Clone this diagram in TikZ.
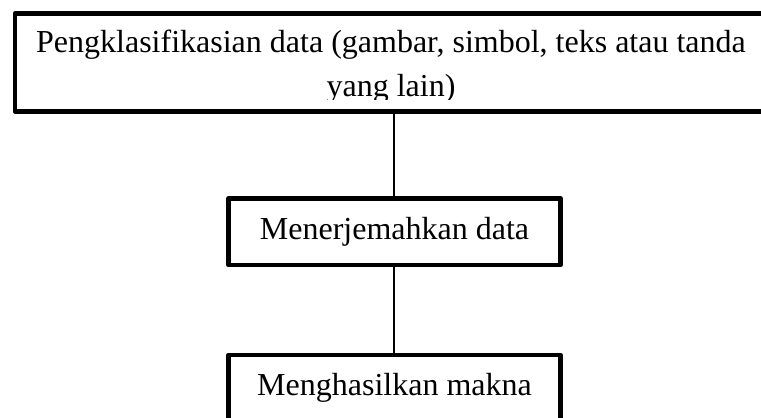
\documentclass[tikz,border=0pt]{standalone}
\usepackage{fontspec}
\setmainfont{Liberation Serif}
\begin{document}
\begin{tikzpicture}[x=1pt,y=-1pt,
  box/.style={draw=black, line width=4.5pt, line join=round, rectangle, inner sep=0pt, fill=none},
  txt/.style={font=\fontsize{32}{44}\selectfont, inner sep=0pt, align=center},
  link/.style={draw=black, line width=2pt}]
\clip (0,0) rectangle (761,418);
\fill[white] (0,0) rectangle (761,418);
% top box (cut at right edge)
\node[box, minimum width=775pt, minimum height=98pt] (top) at (402.5,62.5) {};
\begin{scope}
\clip (0,0) rectangle (761,99);
\node[txt] (toptext) at (391,67) {Pengklasifikasian data (gambar, simbol, teks atau tanda\\yang lain)};
\end{scope}
% middle box
\node[box, txt, minimum width=332pt, minimum height=66.5pt] (mid) at (394.5,231.75) {Menerjemahkan data};
% bottom box (cut at bottom edge)
\node[box, txt, minimum width=332pt, minimum height=66.5pt] (bot) at (394.5,388.25) {Menghasilkan makna};
% connectors
\draw[link] (mid.north -| 394,0) -- (top.south -| 394,0);
\draw[link] (bot.north -| 394,0) -- (mid.south -| 394,0);
\end{tikzpicture}
\end{document}
